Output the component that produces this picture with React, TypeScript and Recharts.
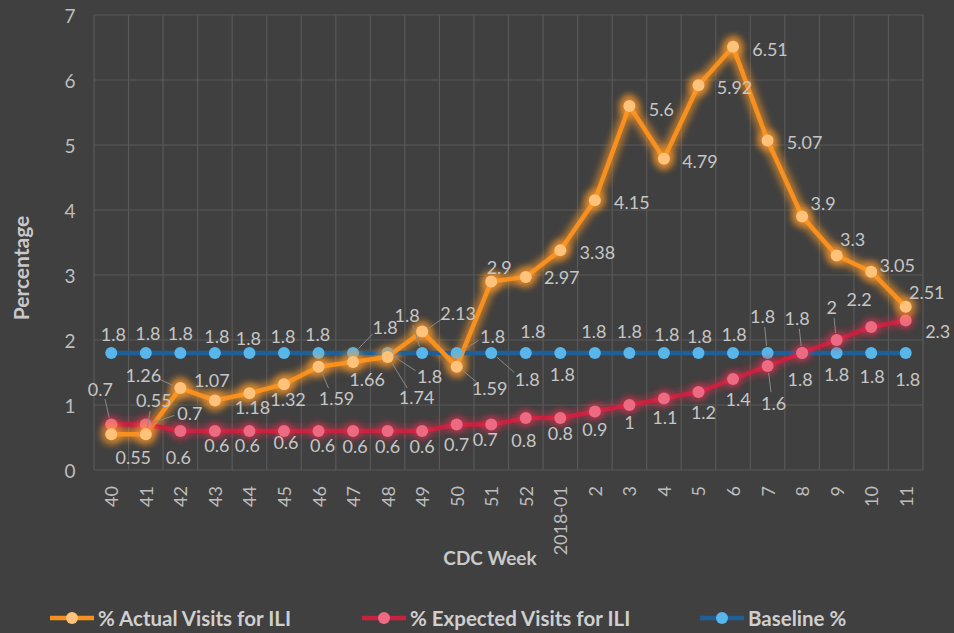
import React from 'react';
import { LineChart, Line, XAxis, YAxis, CartesianGrid, LabelList } from 'recharts';

const weeks = ['40', '41', '42', '43', '44', '45', '46', '47', '48', '49', '50', '51', '52', '2018-01', '2', '3', '4', '5', '6', '7', '8', '9', '10', '11'];
const actualVisits = [0.55, 0.55, 1.26, 1.07, 1.18, 1.32, 1.59, 1.66, 1.74, 2.13, 1.59, 2.9, 2.97, 3.38, 4.15, 5.6, 4.79, 5.92, 6.51, 5.07, 3.9, 3.3, 3.05, 2.51];
const expectedVisits = [0.7, 0.7, 0.6, 0.6, 0.6, 0.6, 0.6, 0.6, 0.6, 0.6, 0.7, 0.7, 0.8, 0.8, 0.9, 1, 1.1, 1.2, 1.4, 1.6, 1.8, 2, 2.2, 2.3];
const baselinePct = [1.8, 1.8, 1.8, 1.8, 1.8, 1.8, 1.8, 1.8, 1.8, 1.8, 1.8, 1.8, 1.8, 1.8, 1.8, 1.8, 1.8, 1.8, 1.8, 1.8, 1.8, 1.8, 1.8, 1.8];
const yTicks = [0, 1, 2, 3, 4, 5, 6, 7];
const seriesNames = ['% Actual Visits for ILI', '% Expected Visits for ILI', 'Baseline %'];

const data = weeks.map((w, i) => ({
  week: w,
  actual: actualVisits[i],
  expected: expectedVisits[i],
  baseline: baselinePct[i],
}));

// label placement (offset of label centre relative to its point)
const actualLabelOffsets = [
  [22, 23], [8, -34], [-37, -13], [-3, -20], [3, 14], [4, 15], [18, 31], [14, 17], [29, 40], [36, -19],
  [33, 21], [8, -15], [36, 0], [37, 2], [37, 2], [32, 3], [36, 2], [36, 2], [37, 2], [37, 2],
  [21, -14], [16, -17], [26, -7], [21, -15],
];
const expectedLabelOffsets = [
  [-11, -36], [44, -12], [-2, 26], [2, 14], [-2, 14], [2, 11], [4, 14], [2, 15], [0, 15], [0, 15],
  [0, 19], [-6, 14], [-2, 22], [0, 15], [0, 17], [0, 17], [1, 18], [5, 20], [5, 20], [6, 37],
  [-5, -35], [-5, -33], [-12, -28], [32, 10],
];
const baselineLabelOffsets = [
  [2, -19], [2, -20], [0, -20], [2, -17], [-1, -15], [-1, -17], [-1, -19], [32, -26], [42, 23], [-15, -38],
  [36, -17], [36, 26], [7, -22], [2, 21], [-1, -22], [0, -22], [3, -19], [1, -17], [1, -19], [-5, -37],
  [-2, 26], [0, 21], [1, 23], [2, 26],
];

const FONT = 'Lato, "Open Sans", sans-serif';
const LABEL_COLOR = '#c6c6c6';

const makeLabel = (offsets: number[][]) => (props: any) => {
  const { x, y, value, index } = props;
  const off = offsets[index] || [0, -18];
  const dx = off[0];
  const dy = off[1];
  const lx = x + dx;
  const ly = y + dy;
  const dist = Math.hypot(dx, dy);
  let leader = null;
  if (Math.abs(dy) > 28 || dist > 38) {
    const ux = dx / dist;
    const uy = dy / dist;
    leader = (
      <line
        x1={x + ux * 7}
        y1={y + uy * 7}
        x2={lx - ux * 16}
        y2={ly - uy * 11}
        stroke="#8a8a8a"
        strokeWidth={1}
      />
    );
  }
  return (
    <g key={`lbl-${index}`}>
      {leader}
      <text
        x={lx}
        y={ly}
        textAnchor="middle"
        dominantBaseline="central"
        fill={LABEL_COLOR}
        fontSize={18}
        fontFamily={FONT}
      >
        {value}
      </text>
    </g>
  );
};

const makeDot = (fill: string, glow: string | null, glowR: number) => (p: any) => {
  if (p.cx == null || p.cy == null) return <g key={`d-${p.index}`} />;
  return (
    <g key={`d-${p.index}`}>
      {glow && <circle cx={p.cx} cy={p.cy} r={glowR} fill={glow} opacity={0.6} filter="url(#softBlur)" />}
      <circle cx={p.cx} cy={p.cy} r={6} fill={fill} />
    </g>
  );
};

const XTick = (props: any) => {
  const { x, y, payload } = props;
  const ty = y + 8;
  return (
    <text
      x={x}
      y={ty}
      transform={`rotate(-90 ${x} ${ty})`}
      textAnchor="end"
      dominantBaseline="central"
      fill="#bdbdbd"
      fontSize={18}
      fontFamily={FONT}
    >
      {payload.value}
    </text>
  );
};

const YTick = (props: any) => {
  const { y, payload } = props;
  return (
    <text x={70} y={y} textAnchor="middle" dominantBaseline="central" fill="#bdbdbd" fontSize={19} fontFamily={FONT}>
      {payload.value}
    </text>
  );
};

const legendColors = [
  { line: '#f7901e', dot: '#ffc27a', left: 48 },
  { line: '#c8213f', dot: '#ec6a82', left: 360 },
  { line: '#1d5f96', dot: '#58b6ea', left: 698 },
];

const HALF_BAND = 829 / weeks.length / 2;

export default function App() {
  return (
    <div
      style={{
        position: 'absolute',
        left: 0,
        top: 0,
        width: 954,
        height: 633,
        background: '#404040',
        overflow: 'hidden',
        fontFamily: FONT,
      }}
    >
      <LineChart width={954} height={633} data={data} margin={{ top: 15, right: 31, left: 0, bottom: 0 }}>
        <defs>
          <filter id="softBlur" x="-100%" y="-100%" width="300%" height="300%">
            <feGaussianBlur stdDeviation="3" />
          </filter>
          <filter id="lineBlur" x="-20%" y="-20%" width="140%" height="140%">
            <feGaussianBlur stdDeviation="3.5" />
          </filter>
        </defs>
        <CartesianGrid
          stroke="#595959"
          strokeWidth={1.2}
          verticalCoordinatesGenerator={({ offset }: any) =>
            Array.from({ length: weeks.length + 1 }, (_, i) => offset.left + (i * offset.width) / weeks.length)
          }
        />
        <XAxis
          dataKey="week"
          interval={0}
          height={163}
          padding={{ left: HALF_BAND, right: HALF_BAND }}
          tickLine={false}
          axisLine={false}
          tick={<XTick />}
          label={{
            content: () => (
              <text x={490} y={557} textAnchor="middle" dominantBaseline="central" fill="#c9c9c9" fontSize={19} fontWeight="bold" fontFamily={FONT}>
                CDC Week
              </text>
            ),
          }}
        />
        <YAxis
          width={94}
          domain={[0, 7]}
          ticks={yTicks}
          tickLine={false}
          axisLine={false}
          tick={<YTick />}
          label={{
            content: () => (
              <text
                x={20}
                y={268}
                transform="rotate(-90 20 268)"
                textAnchor="middle"
                dominantBaseline="central"
                fill="#c9c9c9"
                fontSize={21}
                fontWeight="bold"
                fontFamily={FONT}
              >
                Percentage
              </text>
            ),
          }}
        />
        <Line
          dataKey="baseline"
          stroke="#2a79b8"
          strokeWidth={10}
          strokeOpacity={0.35}
          dot={false}
          activeDot={false}
          legendType="none"
          isAnimationActive={false}
          filter="url(#lineBlur)"
        />
        <Line
          dataKey="expected"
          stroke="#e0304f"
          strokeWidth={10}
          strokeOpacity={0.4}
          dot={false}
          activeDot={false}
          legendType="none"
          isAnimationActive={false}
          filter="url(#lineBlur)"
        />
        <Line
          dataKey="actual"
          stroke="#ff9a2a"
          strokeWidth={12}
          strokeOpacity={0.6}
          dot={false}
          activeDot={false}
          legendType="none"
          isAnimationActive={false}
          filter="url(#lineBlur)"
        />
        <Line
          name={seriesNames[2]}
          dataKey="baseline"
          stroke="#1d5f96"
          strokeWidth={4.5}
          dot={makeDot('#58b6ea', null, 0)}
          activeDot={false}
          isAnimationActive={false}
        >
          <LabelList dataKey="baseline" content={makeLabel(baselineLabelOffsets)} />
        </Line>
        <Line
          name={seriesNames[1]}
          dataKey="expected"
          stroke="#c8213f"
          strokeWidth={4.5}
          dot={makeDot('#ec6a82', '#e0304f', 9)}
          activeDot={false}
          isAnimationActive={false}
        >
          <LabelList dataKey="expected" content={makeLabel(expectedLabelOffsets)} />
        </Line>
        <Line
          name={seriesNames[0]}
          dataKey="actual"
          stroke="#f7901e"
          strokeWidth={4.5}
          dot={makeDot('#ffc27a', '#ff9a2a', 11)}
          activeDot={false}
          isAnimationActive={false}
        >
          <LabelList dataKey="actual" content={makeLabel(actualLabelOffsets)} />
        </Line>
      </LineChart>
      {seriesNames.map((name, i) => (
        <div
          key={name}
          style={{
            position: 'absolute',
            left: legendColors[i].left,
            top: 604,
            height: 28,
            display: 'flex',
            alignItems: 'center',
            whiteSpace: 'nowrap',
          }}
        >
          <svg width={48} height={20} style={{ display: 'block' }}>
            <line x1={2} y1={10} x2={46} y2={10} stroke={legendColors[i].line} strokeWidth={4.5} />
            <circle cx={24} cy={10} r={6} fill={legendColors[i].dot} />
          </svg>
          <span style={{ color: '#cfcfcf', fontSize: 20.5, fontWeight: 'bold', marginLeft: 2, fontFamily: FONT }}>{name}</span>
        </div>
      ))}
    </div>
  );
}
